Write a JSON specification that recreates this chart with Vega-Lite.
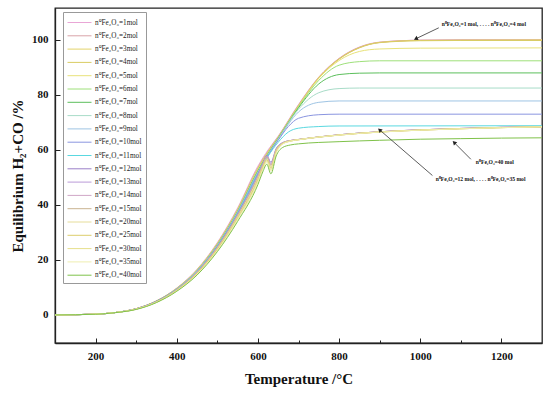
{
  "$schema": "https://vega.github.io/schema/vega-lite/v6.json",
  "width": 487,
  "height": 335,
  "autosize": "none",
  "padding": {"left": 55, "top": 8, "right": 8, "bottom": 51},
  "background": "white",
  "view": {"stroke": "#222", "strokeWidth": 1.3},
  "config": {"font": "Liberation Serif"},
  "datasets": {
    "curves": [
      {"s":"1","T":100,"v":0},{"s":"1","T":200,"v":0.3},{"s":"1","T":250,"v":0.9},{"s":"1","T":300,"v":2.3},{"s":"1","T":350,"v":5.1},{"s":"1","T":400,"v":9.8},{"s":"1","T":450,"v":16.6},{"s":"1","T":500,"v":26.3},{"s":"1","T":550,"v":38.9},{"s":"1","T":600,"v":54.1},{"s":"1","T":625,"v":60},{"s":"1","T":650,"v":65},{"s":"1","T":700,"v":76.5},{"s":"1","T":750,"v":86.5},{"s":"1","T":800,"v":93.3},{"s":"1","T":850,"v":97.4},{"s":"1","T":900,"v":99.2},{"s":"1","T":1000,"v":99.9},{"s":"1","T":1100,"v":100},{"s":"1","T":1300,"v":100},
      {"s":"2","T":100,"v":0},{"s":"2","T":200,"v":0.3},{"s":"2","T":250,"v":0.9},{"s":"2","T":300,"v":2.3},{"s":"2","T":350,"v":5.1},{"s":"2","T":400,"v":9.7},{"s":"2","T":450,"v":16.4},{"s":"2","T":500,"v":26},{"s":"2","T":550,"v":38.5},{"s":"2","T":600,"v":53.6},{"s":"2","T":625,"v":59.6},{"s":"2","T":650,"v":64.8},{"s":"2","T":700,"v":76.3},{"s":"2","T":750,"v":86.4},{"s":"2","T":800,"v":93.2},{"s":"2","T":850,"v":97.3},{"s":"2","T":900,"v":99.1},{"s":"2","T":1000,"v":99.9},{"s":"2","T":1100,"v":100},{"s":"2","T":1300,"v":100},
      {"s":"3","T":100,"v":0},{"s":"3","T":200,"v":0.3},{"s":"3","T":250,"v":0.9},{"s":"3","T":300,"v":2.3},{"s":"3","T":350,"v":5.1},{"s":"3","T":400,"v":9.6},{"s":"3","T":450,"v":16.4},{"s":"3","T":500,"v":25.9},{"s":"3","T":550,"v":38.3},{"s":"3","T":600,"v":53.3},{"s":"3","T":625,"v":59.4},{"s":"3","T":650,"v":64.6},{"s":"3","T":700,"v":76.1},{"s":"3","T":750,"v":86.3},{"s":"3","T":800,"v":93.1},{"s":"3","T":850,"v":97.2},{"s":"3","T":900,"v":99.1},{"s":"3","T":1000,"v":99.8},{"s":"3","T":1100,"v":99.9},{"s":"3","T":1300,"v":100},
      {"s":"4","T":100,"v":0},{"s":"4","T":200,"v":0.3},{"s":"4","T":250,"v":0.9},{"s":"4","T":300,"v":2.3},{"s":"4","T":350,"v":5},{"s":"4","T":400,"v":9.6},{"s":"4","T":450,"v":16.3},{"s":"4","T":500,"v":25.8},{"s":"4","T":550,"v":38.1},{"s":"4","T":600,"v":53},{"s":"4","T":625,"v":59.2},{"s":"4","T":650,"v":64.5},{"s":"4","T":700,"v":76},{"s":"4","T":750,"v":86.2},{"s":"4","T":800,"v":93},{"s":"4","T":850,"v":97.1},{"s":"4","T":900,"v":99},{"s":"4","T":1000,"v":99.7},{"s":"4","T":1100,"v":99.8},{"s":"4","T":1300,"v":99.8},
      {"s":"5","T":100,"v":0},{"s":"5","T":200,"v":0.3},{"s":"5","T":250,"v":0.9},{"s":"5","T":300,"v":2.3},{"s":"5","T":350,"v":5},{"s":"5","T":400,"v":9.5},{"s":"5","T":450,"v":16.2},{"s":"5","T":500,"v":25.6},{"s":"5","T":550,"v":37.9},{"s":"5","T":600,"v":52.8},{"s":"5","T":625,"v":59},{"s":"5","T":650,"v":64.4},{"s":"5","T":700,"v":75.8},{"s":"5","T":750,"v":86},{"s":"5","T":800,"v":92.5},{"s":"5","T":850,"v":95.8},{"s":"5","T":900,"v":96.7},{"s":"5","T":1000,"v":97},{"s":"5","T":1300,"v":97.1},
      {"s":"6","T":100,"v":0},{"s":"6","T":200,"v":0.3},{"s":"6","T":250,"v":0.9},{"s":"6","T":300,"v":2.2},{"s":"6","T":350,"v":5},{"s":"6","T":400,"v":9.5},{"s":"6","T":450,"v":16.1},{"s":"6","T":500,"v":25.5},{"s":"6","T":550,"v":37.7},{"s":"6","T":600,"v":52.5},{"s":"6","T":625,"v":58.8},{"s":"6","T":650,"v":64.3},{"s":"6","T":700,"v":75.6},{"s":"6","T":750,"v":85.3},{"s":"6","T":800,"v":90.8},{"s":"6","T":850,"v":92.1},{"s":"6","T":900,"v":92.4},{"s":"6","T":1300,"v":92.4},
      {"s":"7","T":100,"v":0},{"s":"7","T":200,"v":0.3},{"s":"7","T":250,"v":0.9},{"s":"7","T":300,"v":2.2},{"s":"7","T":350,"v":5},{"s":"7","T":400,"v":9.4},{"s":"7","T":450,"v":16},{"s":"7","T":500,"v":25.4},{"s":"7","T":550,"v":37.6},{"s":"7","T":600,"v":52.3},{"s":"7","T":625,"v":58.6},{"s":"7","T":650,"v":64.2},{"s":"7","T":700,"v":75.3},{"s":"7","T":750,"v":84},{"s":"7","T":800,"v":87.4},{"s":"7","T":850,"v":87.9},{"s":"7","T":900,"v":88},{"s":"7","T":1300,"v":88},
      {"s":"8","T":100,"v":0},{"s":"8","T":200,"v":0.3},{"s":"8","T":250,"v":0.9},{"s":"8","T":300,"v":2.2},{"s":"8","T":350,"v":4.9},{"s":"8","T":400,"v":9.4},{"s":"8","T":450,"v":16},{"s":"8","T":500,"v":25.3},{"s":"8","T":550,"v":37.4},{"s":"8","T":600,"v":52},{"s":"8","T":625,"v":58.4},{"s":"8","T":650,"v":64},{"s":"8","T":700,"v":74.8},{"s":"8","T":750,"v":80.8},{"s":"8","T":800,"v":82.3},{"s":"8","T":850,"v":82.5},{"s":"8","T":1300,"v":82.5},
      {"s":"9","T":100,"v":0},{"s":"9","T":200,"v":0.3},{"s":"9","T":250,"v":0.9},{"s":"9","T":300,"v":2.2},{"s":"9","T":350,"v":4.9},{"s":"9","T":400,"v":9.3},{"s":"9","T":450,"v":15.9},{"s":"9","T":500,"v":25.1},{"s":"9","T":550,"v":37.2},{"s":"9","T":600,"v":51.8},{"s":"9","T":625,"v":58.2},{"s":"9","T":650,"v":63.8},{"s":"9","T":700,"v":73.8},{"s":"9","T":750,"v":77.3},{"s":"9","T":800,"v":77.8},{"s":"9","T":1300,"v":77.8},
      {"s":"10","T":100,"v":0},{"s":"10","T":200,"v":0.3},{"s":"10","T":250,"v":0.9},{"s":"10","T":300,"v":2.2},{"s":"10","T":350,"v":4.9},{"s":"10","T":400,"v":9.3},{"s":"10","T":450,"v":15.8},{"s":"10","T":500,"v":25},{"s":"10","T":550,"v":37},{"s":"10","T":600,"v":51.5},{"s":"10","T":625,"v":58},{"s":"10","T":650,"v":63.5},{"s":"10","T":675,"v":68.5},{"s":"10","T":700,"v":71.5},{"s":"10","T":750,"v":72.8},{"s":"10","T":800,"v":73},{"s":"10","T":1300,"v":73},
      {"s":"11","T":100,"v":0},{"s":"11","T":200,"v":0.3},{"s":"11","T":250,"v":0.9},{"s":"11","T":300,"v":2.2},{"s":"11","T":350,"v":4.9},{"s":"11","T":400,"v":9.3},{"s":"11","T":450,"v":15.7},{"s":"11","T":500,"v":24.9},{"s":"11","T":550,"v":36.8},{"s":"11","T":600,"v":51.2},{"s":"11","T":625,"v":57.7},{"s":"11","T":650,"v":62.8},{"s":"11","T":675,"v":66.5},{"s":"11","T":700,"v":67.9},{"s":"11","T":750,"v":68.5},{"s":"11","T":800,"v":68.7},{"s":"11","T":1300,"v":68.8},
      {"s":"12","T":100,"v":0},{"s":"12","T":200,"v":0.3},{"s":"12","T":250,"v":0.9},{"s":"12","T":300,"v":2.2},{"s":"12","T":350,"v":4.9},{"s":"12","T":400,"v":9.2},{"s":"12","T":450,"v":15.6},{"s":"12","T":500,"v":24.8},{"s":"12","T":550,"v":36.6},{"s":"12","T":600,"v":51},{"s":"12","T":612,"v":55},{"s":"12","T":622,"v":58},{"s":"12","T":632,"v":55.5},{"s":"12","T":645,"v":60.5},{"s":"12","T":660,"v":62.6},{"s":"12","T":680,"v":63.4},{"s":"12","T":700,"v":63.8},{"s":"12","T":800,"v":65.5},{"s":"12","T":900,"v":66.6},{"s":"12","T":1000,"v":67.3},{"s":"12","T":1100,"v":67.8},{"s":"12","T":1200,"v":68.2},{"s":"12","T":1300,"v":68.4},
      {"s":"13","T":100,"v":0},{"s":"13","T":200,"v":0.3},{"s":"13","T":250,"v":0.9},{"s":"13","T":300,"v":2.2},{"s":"13","T":350,"v":4.8},{"s":"13","T":400,"v":9.2},{"s":"13","T":450,"v":15.6},{"s":"13","T":500,"v":24.6},{"s":"13","T":550,"v":36.4},{"s":"13","T":600,"v":50.7},{"s":"13","T":612,"v":54.8},{"s":"13","T":622,"v":57.8},{"s":"13","T":632,"v":55},{"s":"13","T":645,"v":60.3},{"s":"13","T":660,"v":62.5},{"s":"13","T":680,"v":63.4},{"s":"13","T":700,"v":63.8},{"s":"13","T":800,"v":65.5},{"s":"13","T":900,"v":66.6},{"s":"13","T":1000,"v":67.3},{"s":"13","T":1100,"v":67.8},{"s":"13","T":1200,"v":68.2},{"s":"13","T":1300,"v":68.4},
      {"s":"14","T":100,"v":0},{"s":"14","T":200,"v":0.3},{"s":"14","T":250,"v":0.9},{"s":"14","T":300,"v":2.2},{"s":"14","T":350,"v":4.8},{"s":"14","T":400,"v":9.1},{"s":"14","T":450,"v":15.5},{"s":"14","T":500,"v":24.5},{"s":"14","T":550,"v":36.3},{"s":"14","T":600,"v":50.5},{"s":"14","T":612,"v":54.6},{"s":"14","T":622,"v":57.5},{"s":"14","T":632,"v":54.6},{"s":"14","T":645,"v":60.1},{"s":"14","T":660,"v":62.5},{"s":"14","T":680,"v":63.4},{"s":"14","T":700,"v":63.8},{"s":"14","T":800,"v":65.5},{"s":"14","T":900,"v":66.6},{"s":"14","T":1000,"v":67.3},{"s":"14","T":1100,"v":67.8},{"s":"14","T":1200,"v":68.2},{"s":"14","T":1300,"v":68.4},
      {"s":"15","T":100,"v":0},{"s":"15","T":200,"v":0.3},{"s":"15","T":250,"v":0.9},{"s":"15","T":300,"v":2.1},{"s":"15","T":350,"v":4.8},{"s":"15","T":400,"v":9.1},{"s":"15","T":450,"v":15.4},{"s":"15","T":500,"v":24.4},{"s":"15","T":550,"v":36.1},{"s":"15","T":600,"v":50.2},{"s":"15","T":612,"v":54.4},{"s":"15","T":622,"v":57.3},{"s":"15","T":632,"v":54.3},{"s":"15","T":645,"v":60},{"s":"15","T":660,"v":62.4},{"s":"15","T":680,"v":63.4},{"s":"15","T":700,"v":63.8},{"s":"15","T":800,"v":65.5},{"s":"15","T":900,"v":66.6},{"s":"15","T":1000,"v":67.3},{"s":"15","T":1100,"v":67.8},{"s":"15","T":1200,"v":68.2},{"s":"15","T":1300,"v":68.4},
      {"s":"20","T":100,"v":0},{"s":"20","T":200,"v":0.3},{"s":"20","T":250,"v":0.9},{"s":"20","T":300,"v":2.1},{"s":"20","T":350,"v":4.7},{"s":"20","T":400,"v":9},{"s":"20","T":450,"v":15.2},{"s":"20","T":500,"v":24.1},{"s":"20","T":550,"v":35.7},{"s":"20","T":600,"v":49.7},{"s":"20","T":612,"v":54},{"s":"20","T":622,"v":56.8},{"s":"20","T":632,"v":53.8},{"s":"20","T":645,"v":59.7},{"s":"20","T":660,"v":62.3},{"s":"20","T":680,"v":63.3},{"s":"20","T":700,"v":63.7},{"s":"20","T":800,"v":65.4},{"s":"20","T":900,"v":66.5},{"s":"20","T":1000,"v":67.2},{"s":"20","T":1100,"v":67.7},{"s":"20","T":1200,"v":68.1},{"s":"20","T":1300,"v":68.4},
      {"s":"25","T":100,"v":0},{"s":"25","T":200,"v":0.3},{"s":"25","T":250,"v":0.9},{"s":"25","T":300,"v":2.1},{"s":"25","T":350,"v":4.7},{"s":"25","T":400,"v":8.9},{"s":"25","T":450,"v":15.1},{"s":"25","T":500,"v":23.9},{"s":"25","T":550,"v":35.3},{"s":"25","T":600,"v":49.2},{"s":"25","T":612,"v":53.6},{"s":"25","T":622,"v":56.4},{"s":"25","T":632,"v":53.3},{"s":"25","T":645,"v":59.4},{"s":"25","T":660,"v":62.2},{"s":"25","T":680,"v":63.2},{"s":"25","T":700,"v":63.7},{"s":"25","T":800,"v":65.4},{"s":"25","T":900,"v":66.5},{"s":"25","T":1000,"v":67.2},{"s":"25","T":1100,"v":67.7},{"s":"25","T":1200,"v":68.1},{"s":"25","T":1300,"v":68.4},
      {"s":"30","T":100,"v":0},{"s":"30","T":200,"v":0.3},{"s":"30","T":250,"v":0.9},{"s":"30","T":300,"v":2.1},{"s":"30","T":350,"v":4.6},{"s":"30","T":400,"v":8.8},{"s":"30","T":450,"v":14.9},{"s":"30","T":500,"v":23.6},{"s":"30","T":550,"v":35},{"s":"30","T":600,"v":48.7},{"s":"30","T":612,"v":53.2},{"s":"30","T":622,"v":56},{"s":"30","T":632,"v":52.8},{"s":"30","T":645,"v":59.1},{"s":"30","T":660,"v":62.1},{"s":"30","T":680,"v":63.2},{"s":"30","T":700,"v":63.7},{"s":"30","T":800,"v":65.4},{"s":"30","T":900,"v":66.5},{"s":"30","T":1000,"v":67.2},{"s":"30","T":1100,"v":67.7},{"s":"30","T":1200,"v":68.1},{"s":"30","T":1300,"v":68.4},
      {"s":"35","T":100,"v":0},{"s":"35","T":200,"v":0.3},{"s":"35","T":250,"v":0.9},{"s":"35","T":300,"v":2.1},{"s":"35","T":350,"v":4.6},{"s":"35","T":400,"v":8.7},{"s":"35","T":450,"v":14.8},{"s":"35","T":500,"v":23.4},{"s":"35","T":550,"v":34.6},{"s":"35","T":600,"v":48.2},{"s":"35","T":612,"v":52.8},{"s":"35","T":622,"v":55.6},{"s":"35","T":632,"v":52.3},{"s":"35","T":645,"v":58.8},{"s":"35","T":660,"v":62},{"s":"35","T":680,"v":63.2},{"s":"35","T":700,"v":63.7},{"s":"35","T":800,"v":65.4},{"s":"35","T":900,"v":66.5},{"s":"35","T":1000,"v":67.2},{"s":"35","T":1100,"v":67.7},{"s":"35","T":1200,"v":68.1},{"s":"35","T":1300,"v":68.4},
      {"s":"40","T":100,"v":0},{"s":"40","T":200,"v":0.25},{"s":"40","T":250,"v":0.85},{"s":"40","T":300,"v":2},{"s":"40","T":350,"v":4.5},{"s":"40","T":400,"v":8.6},{"s":"40","T":450,"v":14.5},{"s":"40","T":500,"v":23},{"s":"40","T":550,"v":34},{"s":"40","T":600,"v":47.4},{"s":"40","T":612,"v":52},{"s":"40","T":622,"v":54.8},{"s":"40","T":632,"v":51.3},{"s":"40","T":645,"v":57.8},{"s":"40","T":660,"v":60.8},{"s":"40","T":680,"v":61.8},{"s":"40","T":700,"v":62.2},{"s":"40","T":800,"v":63},{"s":"40","T":900,"v":63.5},{"s":"40","T":1000,"v":63.9},{"s":"40","T":1100,"v":64.1},{"s":"40","T":1200,"v":64.3},{"s":"40","T":1300,"v":64.4}
    ],
    "notes": [
      {"id":"a","T":1053,"v":105.8,"label":"n⁰Fe₂O₃=1 mol, . . . . n⁰Fe₂O₃=4 mol"},
      {"id":"b","T":1137,"v":55.7,"label":"n⁰Fe₂O₃=40 mol"},
      {"id":"c","T":1038,"v":49.5,"label":"n⁰Fe₂O₃=12 mol, . . . . n⁰Fe₂O₃=35 mol"}
    ],
    "arrows": [
      {"id":"a","T":1045.7,"v":104.4,"T2":988.9,"v2":100.4},
      {"id":"b","T":1124.7,"v":56.6,"T2":1083.5,"v2":62.7},
      {"id":"c","T":1030,"v":50.7,"T2":899.8,"v2":67.3}
    ]
  },
  "layer": [
    {
      "data": {"name": "curves"},
      "mark": {"type": "line", "strokeWidth": 1, "interpolate": "monotone"},
      "encoding": {
        "x": {"field": "T", "type": "quantitative",
          "scale": {"domain": [100, 1300], "nice": false, "zero": false},
          "axis": {"values": [200, 300, 400, 500, 600, 700, 800, 900, 1000, 1100, 1200], "title": "Temperature /°C",
            "labelExpr": "datum.value % 200 == 0 ? format(datum.value, 'd') : ''",
            "titleFont": "Liberation Serif", "titleFontSize": 15, "titleFontWeight": "bold", "titleColor": "#111", "titlePadding": 8,
            "labelFont": "Liberation Serif", "labelFontSize": 11, "labelFontWeight": "bold", "labelColor": "#111",
            "tickSize": {"condition": {"test": "datum.value % 200 == 0", "value": -5}, "value": -3},
            "labelPadding": 12, "labelFlush": false, "labelOverlap": false,
            "tickColor": "#222", "domainColor": "#222", "domainWidth": 1.3, "grid": false}},
        "y": {"field": "v", "type": "quantitative",
          "scale": {"domain": [-10.2, 111.6], "nice": false, "zero": false},
          "axis": {"values": [0, 10, 20, 30, 40, 50, 60, 70, 80, 90, 100, 110], "title": "Equilibrium H₂+CO /%",
            "labelExpr": "datum.value % 20 == 0 ? format(datum.value, 'd') : ''",
            "titleFont": "Liberation Serif", "titleFontSize": 15, "titleFontWeight": "bold", "titleColor": "#111", "titlePadding": 6,
            "labelFont": "Liberation Serif", "labelFontSize": 11, "labelFontWeight": "bold", "labelColor": "#111",
            "tickSize": {"condition": {"test": "datum.value % 20 == 0", "value": -5}, "value": -3},
            "labelPadding": 12, "labelFlush": false, "labelOverlap": false,
            "tickColor": "#222", "domainColor": "#222", "domainWidth": 1.3, "grid": false}},
        "color": {"field": "s", "type": "nominal",
          "scale": {"domain": ["1","2","3","4","5","6","7","8","9","10","11","12","13","14","15","20","25","30","35","40"],
            "range": ["#e9a6d6","#d9a3a8","#e3d36a","#d9cc63","#e8e27a","#9ee07a","#5cbf5c","#a8dcc8","#9ec4e4","#8a95e0","#5ad8e0","#9a7fc8","#bb9ad8","#cfa6c6","#c9b391","#e6dd9a","#ddcd6c","#e6df8c","#efeeb0","#7fc24a"]},
          "legend": {"orient": "none", "legendX": 8, "legendY": 4, "title": null,
            "labelExpr": "'n⁰Fe₂O₃=' + datum.label + 'mol'",
            "labelFont": "Liberation Serif", "labelFontSize": 7.2, "labelColor": "#222",
            "symbolType": "M-1,0L3,0", "symbolSize": 144, "symbolStrokeWidth": 1,
            "rowPadding": 3.3, "padding": 4, "strokeColor": "#999", "fillColor": "white", "labelOffset": 15}}
      }
    },
    {
      "data": {"name": "arrows"},
      "mark": {"type": "rule", "color": "#333", "strokeWidth": 0.8},
      "encoding": {
        "x": {"field": "T", "type": "quantitative"},
        "y": {"field": "v", "type": "quantitative"},
        "x2": {"field": "T2"},
        "y2": {"field": "v2"}
      }
    },
    {
      "data": {"name": "arrows"},
      "transform": [{"filter": "datum.id == 'a'"}],
      "mark": {"type": "point", "shape": "triangle-up", "filled": true, "color": "#222", "size": 22, "angle": 244, "opacity": 1},
      "encoding": {"x": {"field": "T2", "type": "quantitative"}, "y": {"field": "v2", "type": "quantitative"}}
    },
    {
      "data": {"name": "arrows"},
      "transform": [{"filter": "datum.id == 'b'"}],
      "mark": {"type": "point", "shape": "triangle-up", "filled": true, "color": "#222", "size": 22, "angle": 315, "opacity": 1},
      "encoding": {"x": {"field": "T2", "type": "quantitative"}, "y": {"field": "v2", "type": "quantitative"}}
    },
    {
      "data": {"name": "arrows"},
      "transform": [{"filter": "datum.id == 'c'"}],
      "mark": {"type": "point", "shape": "triangle-up", "filled": true, "color": "#222", "size": 22, "angle": 311, "opacity": 1},
      "encoding": {"x": {"field": "T2", "type": "quantitative"}, "y": {"field": "v2", "type": "quantitative"}}
    },
    {
      "data": {"name": "notes"},
      "mark": {"type": "text", "align": "left", "baseline": "middle", "font": "Liberation Serif", "fontWeight": "bold", "fontSize": 5.6, "color": "#111"},
      "encoding": {
        "x": {"field": "T", "type": "quantitative"},
        "y": {"field": "v", "type": "quantitative"},
        "text": {"field": "label"}
      }
    }
  ]
}
